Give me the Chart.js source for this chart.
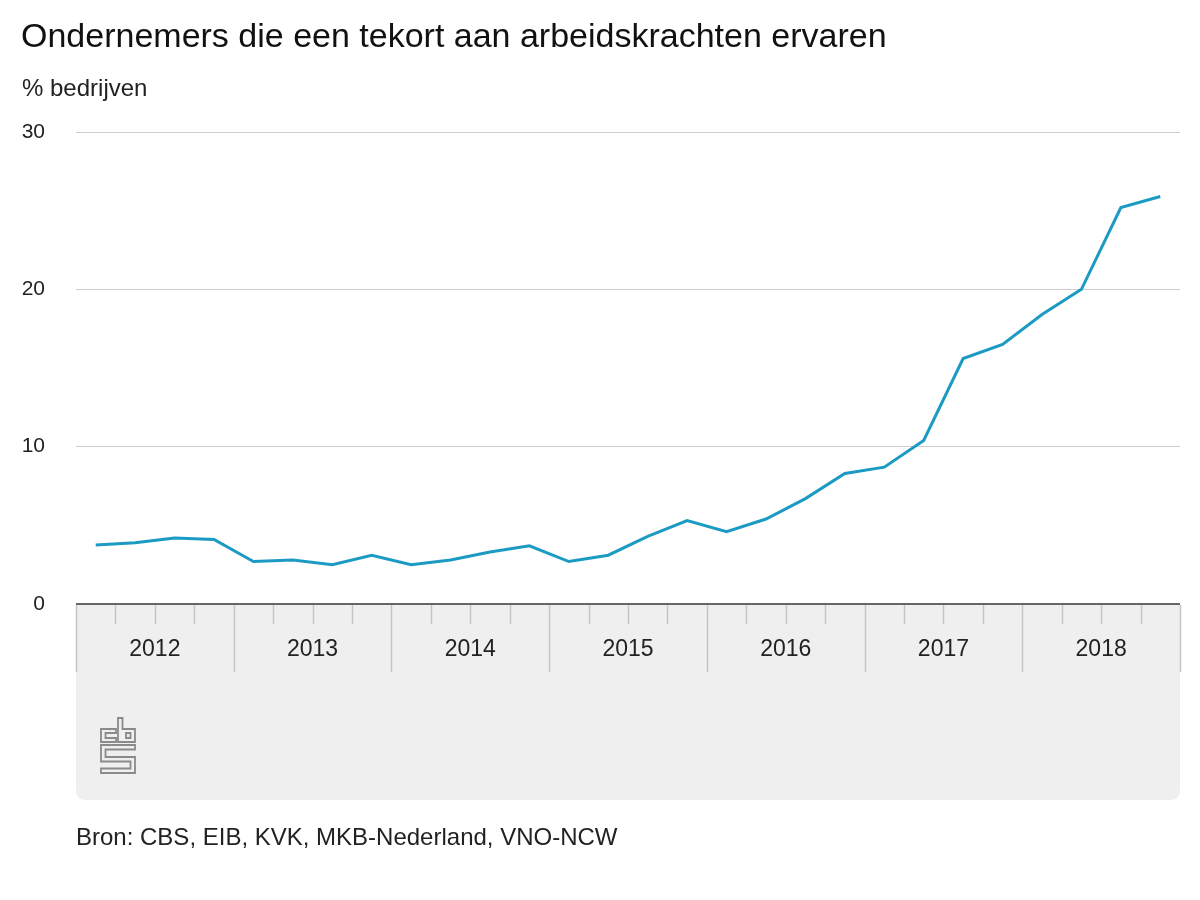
<!DOCTYPE html>
<html>
<head>
<meta charset="utf-8">
<script src="https://cdn.jsdelivr.net/npm/chart.js@4"></script>
<style>
    body { margin: 0; background: #fff; font-family: "Liberation Sans", Arial, sans-serif; }
    #wrap { position: relative; width: 1200px; height: 900px; }
    #title { position: absolute; left: 21px; top: 18px; font-size: 34px; line-height: 1; color: #111; white-space: nowrap; }
    #unit { position: absolute; left: 22px; top: 76px; font-size: 24px; line-height: 1; color: #222; }
    #bron { position: absolute; left: 76px; top: 825px; font-size: 24px; line-height: 1; color: #222; white-space: nowrap; }
    canvas { position: absolute; left: 0; top: 0; }
</style>
</head>
<body>
<div id="wrap">
    <canvas id="chartTekort" width="1200" height="900"></canvas>
    <div id="title">Ondernemers die een tekort aan arbeidskrachten ervaren</div>
    <div id="unit">% bedrijven</div>
    <div id="bron">Bron: CBS, EIB, KVK, MKB-Nederland, VNO-NCW</div>
</div>
<script>
// data per kwartaal, 2012 K1 t/m 2018 K4
var years = ['2012', '2013', '2014', '2015', '2016', '2017', '2018'];
var quarters = ['1e kwartaal', '2e kwartaal', '3e kwartaal', '4e kwartaal'];
var tekort = [
    3.75, 3.9, 4.2, 4.1,
    2.7, 2.8, 2.5, 3.1,
    2.5, 2.8, 3.3, 3.7,
    2.7, 3.1, 4.3, 5.3,
    4.6, 5.4, 6.7, 8.3,
    8.7, 10.4, 15.6, 16.5,
    18.4, 20.0, 25.2, 25.9
];
var yTicks = [0, 10, 20, 30];

var labels = [];
for (var y = 0; y < years.length; y++) {
    for (var q = 0; q < quarters.length; q++) {
        labels.push(years[y] + ' ' + quarters[q]);
    }
}

// grijze band met jaren en kwartaalstreepjes onder de x-as
var xBand = {
    id: 'xBand',
    afterDraw: function (chart) {
        var ctx = chart.ctx;
        var xs = chart.scales.x;
        var area = chart.chartArea;
        var top = area.bottom + 1;
        var bottom = 800;
        var left = area.left, right = area.right, r = 10;

        ctx.save();
        ctx.fillStyle = '#efefef';
        ctx.beginPath();
        ctx.moveTo(left, top);
        ctx.lineTo(right, top);
        ctx.lineTo(right, bottom - r);
        ctx.quadraticCurveTo(right, bottom, right - r, bottom);
        ctx.lineTo(left + r, bottom);
        ctx.quadraticCurveTo(left, bottom, left, bottom - r);
        ctx.closePath();
        ctx.fill();

        var step = xs.getPixelForValue(1) - xs.getPixelForValue(0);
        ctx.strokeStyle = '#c4c4c4';
        ctx.lineWidth = 1.5;
        for (var i = 0; i <= labels.length; i++) {
            var bx = Math.round(xs.getPixelForValue(Math.min(i, labels.length - 1)) + (i === labels.length ? step / 2 : -step / 2)) + 0.5;
            var len = (i % 4 === 0) ? 67 : 19;
            ctx.beginPath();
            ctx.moveTo(bx, top);
            ctx.lineTo(bx, top + len);
            ctx.stroke();
        }

        ctx.fillStyle = '#222';
        ctx.font = '23px "Liberation Sans", Arial, sans-serif';
        ctx.textAlign = 'center';
        ctx.textBaseline = 'alphabetic';
        for (var j = 0; j < years.length; j++) {
            var cx = (xs.getPixelForValue(j * 4) + xs.getPixelForValue(j * 4 + 3)) / 2;
            ctx.fillText(years[j], cx, 656);
        }

        // cbs logo (vereenvoudigd)
        ctx.strokeStyle = '#8a8a8a';
        ctx.lineWidth = 1.8;
        ctx.beginPath();
        // c
        ctx.moveTo(116, 729); ctx.lineTo(101, 729); ctx.lineTo(101, 742); ctx.lineTo(116, 742);
        ctx.lineTo(116, 738); ctx.lineTo(105.5, 738); ctx.lineTo(105.5, 733); ctx.lineTo(116, 733);
        ctx.closePath();
        // b
        ctx.moveTo(118, 718); ctx.lineTo(122.5, 718); ctx.lineTo(122.5, 729); ctx.lineTo(135, 729);
        ctx.lineTo(135, 742); ctx.lineTo(118, 742); ctx.closePath();
        ctx.rect(126, 733, 4.5, 5);
        // S
        ctx.moveTo(101, 745); ctx.lineTo(135, 745); ctx.lineTo(135, 749.5); ctx.lineTo(105.5, 749.5);
        ctx.lineTo(105.5, 757); ctx.lineTo(135, 757); ctx.lineTo(135, 773); ctx.lineTo(101, 773);
        ctx.lineTo(101, 768.5); ctx.lineTo(130.5, 768.5); ctx.lineTo(130.5, 761.5); ctx.lineTo(101, 761.5);
        ctx.closePath();
        ctx.stroke();
        ctx.restore();
    }
};

var ctx = document.getElementById('chartTekort').getContext('2d');
var myChart = new Chart(ctx, {
    type: 'line',
    data: {
        labels: labels,
        datasets: [{
            label: 'Ondernemers met tekort',
            data: tekort,
            borderColor: '#1b9bc3',
            backgroundColor: '#1b9bc3',
            borderWidth: 3,
            pointRadius: 0,
            tension: 0
        }]
    },
    options: {
        responsive: false,
        animation: false,
        layout: { padding: { top: 132, right: 20, left: 0, bottom: 0 } },
        plugins: { legend: { display: false }, tooltip: { enabled: false } },
        scales: {
            x: {
                offset: true,
                grid: { display: false },
                border: { display: false },
                ticks: { display: false },
                afterFit: function (scale) { scale.height = 296; }
            },
            y: {
                min: 0,
                max: 30,
                afterBuildTicks: function (scale) {
                    scale.ticks = yTicks.map(function (v) { return { value: v }; });
                },
                afterFit: function (scale) { scale.width = 76; },
                border: { display: false },
                grid: {
                    drawTicks: false,
                    color: function (c) { return c.tick && c.tick.value === 0 ? '#666' : '#cccccc'; },
                    lineWidth: function (c) { return c.tick && c.tick.value === 0 ? 3 : 1; }
                },
                ticks: {
                    padding: 31,
                    color: '#222',
                    font: { family: '"Liberation Sans", Arial, sans-serif', size: 21 }
                }
            }
        }
    },
    plugins: [xBand]
});
</script>
</body>
</html>
